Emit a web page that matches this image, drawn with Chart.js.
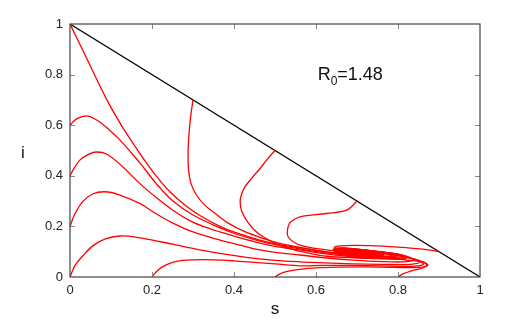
<!DOCTYPE html>
<html lang="en">
<head>
  <meta charset="UTF-8">
  <title>Phase plane s-i</title>
  <script src="https://cdn.jsdelivr.net/npm/chart.js"></script>
  <style>
    html, body { margin: 0; padding: 0; background: #fff; }
    #chartBox { width: 508px; height: 319px; }
  </style>
</head>
<body>
  <div id="chartBox"><canvas id="phaseChart"></canvas></div>
  <script>
// tick values shown on both axes
const xTicks = [0, 0.2, 0.4, 0.6, 0.8, 1];
const yTicks = [0, 0.2, 0.4, 0.6, 0.8, 1];

// boundary s + i = 1
const boundary = [[0, 1], [1, 0]];

// trajectories, [s, i] pairs
const fromS0I1 = [[0,1],[0.045,0.85],[0.09,0.70],[0.125,0.60],[0.151,0.535],[0.178,0.47],[0.21,0.40],[0.245,0.335],[0.28,0.285],[0.32,0.24],[0.366,0.2],[0.41,0.172],[0.463,0.146],[0.51,0.128],[0.561,0.115],
  [0.62,0.1],[0.68,0.088],[0.74,0.08],[0.79,0.077],[0.81,0.082],[0.79,0.092],[0.73,0.102],[0.67,0.108],[0.65,0.104],[0.665,0.096],[0.71,0.09],[0.745,0.092],[0.73,0.098],[0.695,0.099],[0.685,0.095],[0.7,0.093]];
const fromS0I06 = [[0,0.6],[0.016,0.625],[0.044,0.636],[0.075,0.61],[0.1,0.575],[0.122,0.541],[0.15,0.49],[0.171,0.45],[0.21,0.37],[0.251,0.3],[0.3,0.245],[0.366,0.194],[0.41,0.167],[0.463,0.142],[0.51,0.125],[0.561,0.111],
  [0.62,0.096],[0.68,0.085],[0.74,0.077],[0.795,0.074],[0.815,0.08],[0.795,0.091],[0.73,0.103],[0.67,0.109],[0.648,0.105],[0.663,0.096],[0.71,0.089],[0.75,0.091],[0.735,0.098],[0.695,0.1],[0.683,0.095],[0.7,0.093]];
const fromS0I04 = [[0,0.4],[0.01,0.43],[0.024,0.462],[0.045,0.485],[0.065,0.494],[0.09,0.485],[0.129,0.435],[0.17,0.37],[0.212,0.312],[0.25,0.265],[0.293,0.222],[0.33,0.197],[0.366,0.178],[0.41,0.157],[0.463,0.134],[0.51,0.118],[0.561,0.107],
  [0.62,0.092],[0.68,0.081],[0.74,0.073],[0.8,0.07],[0.822,0.077],[0.8,0.09],[0.73,0.104],[0.67,0.11],[0.646,0.106],[0.66,0.096],[0.71,0.088],[0.752,0.09],[0.737,0.098],[0.695,0.1],[0.683,0.095],[0.7,0.093]];
const fromS0I02 = [[0,0.2],[0.012,0.25],[0.032,0.3],[0.055,0.328],[0.085,0.337],[0.12,0.325],[0.171,0.29],[0.21,0.25],[0.251,0.213],[0.3,0.178],[0.366,0.146],[0.41,0.128],[0.463,0.107],[0.51,0.095],[0.561,0.087],
  [0.62,0.076],[0.69,0.067],[0.76,0.061],[0.815,0.06],[0.838,0.068],[0.815,0.084],[0.74,0.103],[0.67,0.112],[0.645,0.107],[0.658,0.096],[0.71,0.087],[0.757,0.089],[0.74,0.098],[0.695,0.101],[0.682,0.095],[0.7,0.093]];
const fromS0I0 = [[0,0],[0.012,0.045],[0.032,0.085],[0.057,0.125],[0.085,0.15],[0.122,0.162],[0.16,0.158],[0.212,0.142],[0.25,0.13],[0.293,0.115],[0.358,0.095],[0.439,0.076],[0.5,0.066],[0.561,0.06],
  [0.62,0.056],[0.69,0.052],[0.76,0.05],[0.83,0.05],[0.852,0.058],[0.83,0.076],[0.75,0.1],[0.67,0.113],[0.643,0.108],[0.656,0.096],[0.71,0.086],[0.76,0.088],[0.745,0.098],[0.695,0.102],[0.681,0.095],[0.7,0.093]];
const fromS02I0 = [[0.2,0],[0.21,0.02],[0.225,0.04],[0.25,0.058],[0.27,0.065],[0.3,0.068],[0.35,0.068],[0.4,0.064],[0.45,0.058],[0.5,0.052],[0.561,0.044],
  [0.62,0.046],[0.69,0.046],[0.76,0.044],[0.83,0.042],[0.862,0.05],[0.84,0.07],[0.76,0.097],[0.67,0.114],[0.642,0.109],[0.655,0.096],[0.71,0.085],[0.763,0.087],[0.748,0.098],[0.695,0.102],[0.681,0.095],[0.7,0.093]];
const fromS05I0 = [[0.5,0],[0.512,0.012],[0.53,0.022],[0.56,0.03],[0.6,0.036],[0.66,0.039],[0.72,0.04],[0.79,0.038],[0.85,0.038],[0.873,0.047],[0.855,0.064],[0.78,0.09],[0.69,0.112],[0.645,0.113],[0.652,0.1],[0.7,0.087],[0.765,0.086],[0.752,0.097],[0.7,0.103],[0.68,0.096],[0.7,0.093]];
const fromS08I0 = [[0.8,0],[0.812,0.012],[0.835,0.025],[0.858,0.035],[0.87,0.045],[0.862,0.058],[0.82,0.067],[0.76,0.08],[0.7,0.095],[0.655,0.104],[0.645,0.098],[0.665,0.09],[0.72,0.087],[0.75,0.092],[0.72,0.099],[0.69,0.097],[0.7,0.094]];
const fromS09I01 = [[0.9,0.1],[0.87,0.108],[0.8,0.118],[0.73,0.124],[0.67,0.124],[0.645,0.118],[0.65,0.108],[0.68,0.097],[0.73,0.087],[0.78,0.082],[0.8,0.087],[0.78,0.095],[0.72,0.104],[0.67,0.106],[0.665,0.099],[0.7,0.092],[0.73,0.094],[0.71,0.098],[0.69,0.096]];
const fromS07I03 = [[0.7,0.3],[0.675,0.264],[0.626,0.251],[0.561,0.238],[0.54,0.22],[0.532,0.199],[0.532,0.159],[0.561,0.126],[0.626,0.107],[0.68,0.096],[0.73,0.09],[0.765,0.09],[0.75,0.097],[0.7,0.104],[0.665,0.103],[0.675,0.096],[0.71,0.093],[0.72,0.096],[0.695,0.097]];
const fromS05I05 = [[0.5,0.5],[0.481,0.465],[0.463,0.428],[0.443,0.39],[0.427,0.357],[0.418,0.325],[0.415,0.295],[0.419,0.26],[0.429,0.228],[0.447,0.19],[0.471,0.159],[0.505,0.13],[0.545,0.108],[0.585,0.093],[0.626,0.082],
  [0.69,0.076],[0.75,0.074],[0.79,0.078],[0.775,0.089],[0.72,0.099],[0.67,0.105],[0.655,0.1],[0.675,0.093],[0.725,0.09],[0.745,0.094],[0.715,0.099],[0.69,0.097]];
const fromS03I07 = [[0.3,0.7],[0.294,0.63],[0.29,0.56],[0.288,0.49],[0.289,0.425],[0.295,0.37],[0.308,0.325],[0.328,0.285],[0.355,0.25],[0.387,0.212],[0.425,0.18],[0.47,0.153],[0.512,0.133],[0.561,0.117],[0.61,0.103],
  [0.67,0.09],[0.73,0.083],[0.78,0.08],[0.8,0.085],[0.78,0.093],[0.72,0.101],[0.67,0.106],[0.652,0.102],[0.67,0.095],[0.72,0.09],[0.745,0.093],[0.72,0.098],[0.69,0.097]];

const trajectories = [fromS0I1, fromS0I06, fromS0I04, fromS0I02, fromS0I0, fromS02I0, fromS05I0, fromS08I0, fromS09I01, fromS07I03, fromS05I05, fromS03I07];

const toPoints = arr => arr.map(p => ({ x: p[0], y: p[1] }));
const FONT = "'Liberation Sans', Arial, sans-serif";

const datasets = trajectories.map(t => ({
  data: toPoints(t),
  borderColor: 'rgb(255, 0, 0)',
  borderWidth: 1.3,
  pointRadius: 0,
  showLine: true,
  tension: 0.35,
  fill: false
}));
datasets.push({
  data: toPoints(boundary),
  borderColor: '#000',
  borderWidth: 1.2,
  pointRadius: 0,
  showLine: true,
  tension: 0,
  fill: false
});

// box, inward ticks and the text labels
const framePlugin = {
  id: 'framePlugin',
  afterDatasetsDraw(chart) {
    const { ctx, chartArea: a, scales: { x, y } } = chart;
    ctx.save();
    ctx.strokeStyle = '#888';
    ctx.lineWidth = 1;
    ctx.beginPath();
    xTicks.slice(1, -1).forEach(v => {
      const px = Math.round(x.getPixelForValue(v)) + 0.5;
      ctx.moveTo(px, a.bottom); ctx.lineTo(px, a.bottom - 5);
      ctx.moveTo(px, a.top); ctx.lineTo(px, a.top + 5);
    });
    yTicks.slice(1, -1).forEach(v => {
      const py = Math.round(y.getPixelForValue(v)) + 0.5;
      ctx.moveTo(a.left, py); ctx.lineTo(a.left + 5, py);
      ctx.moveTo(a.right, py); ctx.lineTo(a.right - 5, py);
    });
    ctx.stroke();

    ctx.strokeStyle = '#444';
    ctx.lineWidth = 1.2;
    ctx.strokeRect(a.left, a.top, a.right - a.left, a.bottom - a.top);

    ctx.fillStyle = '#111';
    ctx.textBaseline = 'alphabetic';
    // R0 label
    let tx = x.getPixelForValue(0.604);
    const ty = y.getPixelForValue(0.78);
    ctx.font = '18px ' + FONT;
    ctx.textAlign = 'left';
    ctx.fillText('R', tx, ty);
    tx += ctx.measureText('R').width;
    ctx.font = '12px ' + FONT;
    ctx.fillText('0', tx, ty + 5);
    tx += ctx.measureText('0').width;
    ctx.font = '18px ' + FONT;
    ctx.fillText('=1.48', tx, ty);

    // axis titles
    ctx.font = '17px ' + FONT;
    ctx.textAlign = 'center';
    ctx.fillText('s', (a.left + a.right) / 2, 314);
    ctx.fillText('i', 23, (a.top + a.bottom) / 2 + 7);
    ctx.restore();
  }
};

new Chart(document.getElementById('phaseChart'), {
  type: 'scatter',
  data: { datasets },
  options: {
    responsive: true,
    maintainAspectRatio: false,
    animation: false,
    layout: { padding: { top: 24, right: 28, left: 0, bottom: 0 } },
    plugins: { legend: { display: false }, tooltip: { enabled: false } },
    scales: {
      x: {
        type: 'linear',
        min: 0, max: 1,
        grid: { display: false, drawTicks: false },
        border: { display: false },
        afterBuildTicks: s => { s.ticks = xTicks.map(v => ({ value: v })); },
        afterFit: s => { s.height = 42; },
        ticks: { padding: 6, color: '#222', font: { family: FONT, size: 13 }, maxRotation: 0, callback: v => String(v) }
      },
      y: {
        type: 'linear',
        min: 0, max: 1,
        grid: { display: false, drawTicks: false },
        border: { display: false },
        afterBuildTicks: s => { s.ticks = yTicks.map(v => ({ value: v })); },
        afterFit: s => { s.width = 70; },
        ticks: { padding: 7, color: '#222', font: { family: FONT, size: 13 }, callback: v => String(v) }
      }
    }
  },
  plugins: [framePlugin]
});
  </script>
</body>
</html>
